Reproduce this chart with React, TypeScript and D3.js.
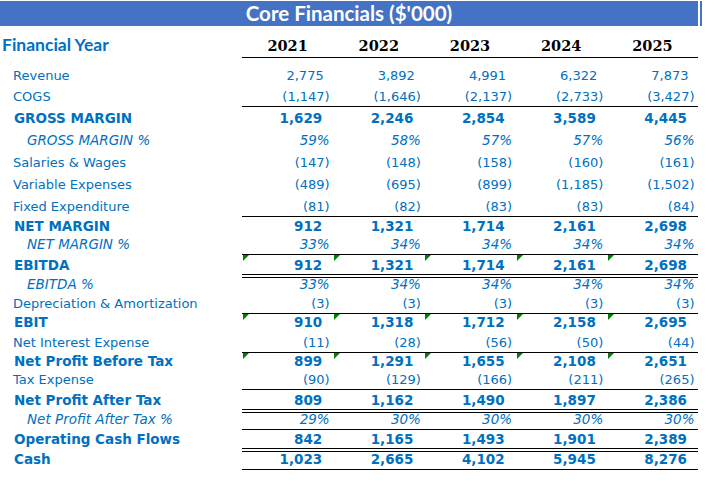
import React from "react";
import * as d3 from "d3";

const title = "Core Financials ($'000)";
const headerLabel = "Financial Year";
const years = ["2021", "2022", "2023", "2024", "2025"];

const rowLabels = [
  "Revenue",
  "COGS",
  "GROSS MARGIN",
  "GROSS MARGIN %",
  "Salaries & Wages",
  "Variable Expenses",
  "Fixed Expenditure",
  "NET MARGIN",
  "NET MARGIN %",
  "EBITDA",
  "EBITDA %",
  "Depreciation & Amortization",
  "EBIT",
  "Net Interest Expense",
  "Net Profit Before Tax",
  "Tax Expense",
  "Net Profit After Tax",
  "Net Profit After Tax %",
  "Operating Cash Flows",
  "Cash",
];
const rowKinds = [
  "reg", "reg", "bold", "pct", "reg", "reg", "reg", "bold", "pct", "bold",
  "pct", "reg", "bold", "reg", "bold", "reg", "bold", "pct", "bold", "bold",
];

const revenue = [2775, 3892, 4991, 6322, 7873];
const cogs = [-1147, -1646, -2137, -2733, -3427];
const grossMargin = [1629, 2246, 2854, 3589, 4445];
const grossMarginPct = [59, 58, 57, 57, 56];
const salaries = [-147, -148, -158, -160, -161];
const variableExp = [-489, -695, -899, -1185, -1502];
const fixedExp = [-81, -82, -83, -83, -84];
const netMargin = [912, 1321, 1714, 2161, 2698];
const netMarginPct = [33, 34, 34, 34, 34];
const ebitda = [912, 1321, 1714, 2161, 2698];
const ebitdaPct = [33, 34, 34, 34, 34];
const depreciation = [-3, -3, -3, -3, -3];
const ebit = [910, 1318, 1712, 2158, 2695];
const netInterest = [-11, -28, -56, -50, -44];
const npbt = [899, 1291, 1655, 2108, 2651];
const tax = [-90, -129, -166, -211, -265];
const npat = [809, 1162, 1490, 1897, 2386];
const npatPct = [29, 30, 30, 30, 30];
const ocf = [842, 1165, 1493, 1901, 2389];
const cash = [1023, 2665, 4102, 5945, 8276];

const rowValues = [
  revenue, cogs, grossMargin, grossMarginPct, salaries, variableExp, fixedExp,
  netMargin, netMarginPct, ebitda, ebitdaPct, depreciation, ebit, netInterest,
  npbt, tax, npat, npatPct, ocf, cash,
];

// rows flagged with a green corner marker in every year cell
const flaggedRows = ["EBITDA", "EBIT", "Net Profit Before Tax"];

// ---------- layout ----------
const W = 705;
const H = 485;
const BLUE = "#0070C0";
const headerLineY = 57;
const rowHeights = [28, 21, 22, 22, 22, 22, 22, 20, 18, 21.5, 18.5, 19, 19, 20, 19, 18, 21.5, 18.5, 20.5, 19.5];
// borders: [rowIndex, edge, style]
const borders: [number, "top" | "bottom", "single" | "double"][] = [
  [0, "top", "single"],
  [2, "top", "single"],
  [7, "top", "single"],
  [9, "top", "single"],
  [9, "bottom", "double"],
  [12, "top", "single"],
  [14, "top", "single"],
  [16, "top", "single"],
  [16, "bottom", "double"],
  [18, "top", "single"],
  [18, "bottom", "double"],
  [19, "bottom", "single"],
];

const fmtNum = d3.format(",");

export default function App() {
  const x = d3.scaleBand<string>().domain(years).range([242, 698]).paddingInner(0).paddingOuter(0);
  const bottoms: number[] = [];
  let acc = headerLineY;
  rowHeights.forEach((h) => {
    acc += h;
    bottoms.push(acc);
  });
  const tops = bottoms.map((b, i) => b - rowHeights[i]);
  const lineX0 = x.range()[0];
  const lineX1 = x.range()[1];

  const labelStyle = (kind: string): React.CSSProperties =>
    kind === "bold"
      ? { fontFamily: "DejaVu Sans", fontWeight: "bold", fontSize: 13.5 }
      : kind === "pct"
      ? { fontFamily: "DejaVu Sans", fontStyle: "italic", fontSize: 13.5 }
      : { fontFamily: "DejaVu Sans", fontSize: 13 };

  const valueStyle = (kind: string): React.CSSProperties =>
    kind === "bold"
      ? { fontFamily: "DejaVu Sans", fontWeight: "bold", fontSize: 13.5 }
      : kind === "pct"
      ? { fontFamily: "DejaVu Sans", fontStyle: "italic", fontSize: 13.5 }
      : { fontFamily: "DejaVu Sans", fontSize: 13 };

  const formatValue = (v: number, kind: string) => {
    if (kind === "pct") return `${v}%`;
    if (v < 0) return `(${fmtNum(-v)})`;
    return fmtNum(v);
  };

  return (
    <svg
      width={W}
      height={H}
      style={{ position: "absolute", left: 0, top: 0, background: "#fff" }}
    >
      {/* title bar */}
      <rect x={0} y={1} width={698} height={25} fill="#4472C4" />
      <rect x={700} y={1} width={2} height={25} fill="#4472C4" />
      <text
        x={349}
        y={20.5}
        textAnchor="middle"
        fill="#fff"
        style={{ fontFamily: "Lato", fontWeight: "bold", fontSize: 20.5 }}
      >
        {title}
      </text>

      {/* header */}
      <text x={2} y={50.5} fill={BLUE} style={{ fontFamily: "Lato", fontWeight: "bold", fontSize: 17.5 }}>
        {headerLabel}
      </text>
      {years.map((yr) => (
        <text
          key={yr}
          x={(x(yr) as number) + x.bandwidth() / 2}
          y={50.5}
          textAnchor="middle"
          fill="#000"
          style={{ fontFamily: "DejaVu Serif", fontWeight: "bold", fontSize: 14.5 }}
        >
          {yr}
        </text>
      ))}

      {/* borders */}
      {borders.map(([ri, edge, style], i) => {
        const y = edge === "top" ? tops[ri] : bottoms[ri];
        if (style === "single")
          return <line key={i} x1={lineX0} x2={lineX1} y1={y} y2={y} stroke="#000" strokeWidth={1} shapeRendering="crispEdges" />;
        return (
          <g key={i}>
            <line x1={lineX0} x2={lineX1} y1={y - 1.5} y2={y - 1.5} stroke="#000" strokeWidth={1} shapeRendering="crispEdges" />
            <line x1={lineX0} x2={lineX1} y1={y + 1.5} y2={y + 1.5} stroke="#000" strokeWidth={1} shapeRendering="crispEdges" />
          </g>
        );
      })}

      {/* green corner markers */}
      {rowLabels.map((lab, ri) =>
        flaggedRows.includes(lab)
          ? years.map((yr) => {
              const x0 = Math.round(x(yr) as number) + 1;
              const y0 = tops[ri] + 1;
              return (
                <path
                  key={lab + yr}
                  d={`M${x0},${y0}L${x0 + 6},${y0}L${x0},${y0 + 6}Z`}
                  fill="#008000"
                />
              );
            })
          : null
      )}

      {/* rows */}
      {rowLabels.map((lab, ri) => {
        const kind = rowKinds[ri];
        const baseY = bottoms[ri] - 5.5;
        const lx = kind === "pct" ? 27 : kind === "bold" ? 14 : 13;
        return (
          <g key={lab}>
            <text x={lx} y={baseY} fill={BLUE} style={labelStyle(kind)}>
              {lab}
            </text>
            {rowValues[ri].map((v, ci) => {
              const right = (x(years[ci]) as number) + x.bandwidth() - 3.5;
              let pad = 0;
              if (kind !== "pct" && v >= 0) pad = kind === "bold" ? 7.5 : 6;
              return (
                <text
                  key={ci}
                  x={right - pad}
                  y={baseY}
                  textAnchor="end"
                  fill={BLUE}
                  style={valueStyle(kind)}
                >
                  {formatValue(v, kind)}
                </text>
              );
            })}
          </g>
        );
      })}
    </svg>
  );
}
